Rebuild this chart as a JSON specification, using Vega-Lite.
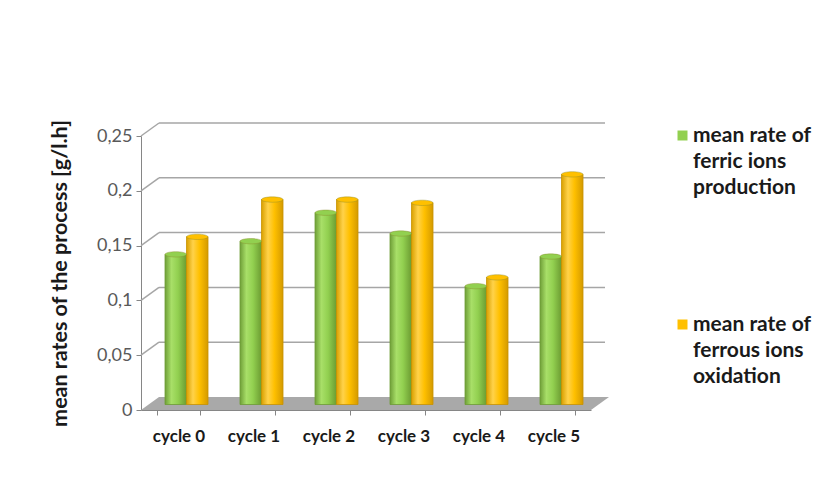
{
  "$schema": "https://vega.github.io/schema/vega-lite/v6.json",
  "width": 450,
  "height": 274,
  "autosize": {"type": "none"},
  "padding": {"left": 141, "top": 136, "right": 238, "bottom": 81},
  "background": "white",
  "datasets": {
    "rates": [
      {"cycle": "cycle 0", "series": "ferric", "rate": 0.137},
      {"cycle": "cycle 0", "series": "ferrous", "rate": 0.153},
      {"cycle": "cycle 1", "series": "ferric", "rate": 0.149},
      {"cycle": "cycle 1", "series": "ferrous", "rate": 0.187},
      {"cycle": "cycle 2", "series": "ferric", "rate": 0.175},
      {"cycle": "cycle 2", "series": "ferrous", "rate": 0.187},
      {"cycle": "cycle 3", "series": "ferric", "rate": 0.156},
      {"cycle": "cycle 3", "series": "ferrous", "rate": 0.184},
      {"cycle": "cycle 4", "series": "ferric", "rate": 0.108},
      {"cycle": "cycle 4", "series": "ferrous", "rate": 0.116},
      {"cycle": "cycle 5", "series": "ferric", "rate": 0.135},
      {"cycle": "cycle 5", "series": "ferrous", "rate": 0.21}
    ],
    "gridLevels": [
      {"level": 0.05}, {"level": 0.1}, {"level": 0.15}, {"level": 0.2}, {"level": 0.25}
    ],
    "floor": [{"level": 0}]
  },
  "encoding": {
    "x": {
      "field": "cycle",
      "type": "nominal",
      "sort": null,
      "scale": {"paddingInner": 0.427, "paddingOuter": 0.2135},
      "axis": {
        "title": null,
        "labelAngle": 0,
        "tickBand": "extent",
        "domainColor": "#868686",
        "tickColor": "#868686",
        "tickSize": 5,
        "labelFont": "Lato",
        "labelFontWeight": "bold",
        "labelFontSize": 17,
        "labelColor": "#1a1a1a",
        "labelPadding": 13
      }
    },
    "y": {
      "type": "quantitative",
      "scale": {"domain": [0, 0.25], "nice": false},
      "axis": {
        "title": "mean rates of the process [g/l.h]",
        "values": [0, 0.05, 0.1, 0.15, 0.2, 0.25],
        "labelExpr": "replace(format(datum.value, '~g'), '.', ',')",
        "grid": false,
        "domainColor": "#868686",
        "tickColor": "#868686",
        "tickSize": 5,
        "labelPadding": 4,
        "labelFont": "Lato",
        "labelFontSize": 18,
        "labelColor": "#595959",
        "titleFont": "Lato",
        "titleFontWeight": "bold",
        "titleFontSize": 21.5,
        "titleColor": "#1a1a1a",
        "titlePadding": 25
      }
    }
  },
  "layer": [
    {
      "data": {"name": "floor"},
      "mark": {
        "type": "point",
        "shape": "M-1,0.0278L0.923,0.0278L1,-0.0278L-0.923,-0.0278Z",
        "size": 219024,
        "filled": true,
        "color": "#a9a9a9",
        "opacity": 1,
        "strokeWidth": 0,
        "xOffset": 9,
        "yOffset": -6.5
      },
      "encoding": {
        "x": null,
        "y": {"field": "level", "type": "quantitative"}
      }
    },
    {
      "data": {"name": "gridLevels"},
      "mark": {
        "type": "rule",
        "color": "#a6a6a6",
        "strokeWidth": 1.5,
        "xOffset": 18,
        "x2Offset": 14,
        "yOffset": -13
      },
      "encoding": {
        "x": {"value": 0},
        "x2": {"value": {"expr": "width"}},
        "y": {"field": "level", "type": "quantitative"}
      }
    },
    {
      "data": {"name": "gridLevels"},
      "mark": {
        "type": "rule",
        "color": "#a6a6a6",
        "strokeWidth": 1.5,
        "x2Offset": 18,
        "y2Offset": -13
      },
      "encoding": {
        "x": {"value": 0},
        "x2": {"value": 0},
        "y": {"field": "level", "type": "quantitative"},
        "y2": {"field": "level"}
      }
    },
    {
      "data": {"name": "rates"},
      "transform": [{"filter": "datum.series == 'ferric'"}],
      "mark": {
        "type": "bar",
        "yOffset": -5.5,
        "y2Offset": -5.5,
        "stroke": "#6c9c34",
        "strokeWidth": 0.8,
        "color": {
          "gradient": "linear",
          "x1": 0, "x2": 1, "y1": 0, "y2": 0,
          "stops": [
            {"offset": 0, "color": "#6f9f38"},
            {"offset": 0.3, "color": "#a8df68"},
            {"offset": 0.6, "color": "#92d050"},
            {"offset": 1, "color": "#6c9c32"}
          ]
        }
      },
      "encoding": {
        "xOffset": {"field": "series", "type": "nominal", "scale": {"domain": ["ferric", "ferrous"], "range": [8, 51]}},
        "y": {"field": "rate", "type": "quantitative"}
      }
    },
    {
      "data": {"name": "rates"},
      "transform": [{"filter": "datum.series == 'ferrous'"}],
      "mark": {
        "type": "bar",
        "yOffset": -5.5,
        "y2Offset": -5.5,
        "stroke": "#c89200",
        "strokeWidth": 0.8,
        "color": {
          "gradient": "linear",
          "x1": 0, "x2": 1, "y1": 0, "y2": 0,
          "stops": [
            {"offset": 0, "color": "#d9a000"},
            {"offset": 0.3, "color": "#ffd24a"},
            {"offset": 0.6, "color": "#ffc000"},
            {"offset": 1, "color": "#d49a00"}
          ]
        }
      },
      "encoding": {
        "xOffset": {"field": "series", "type": "nominal", "scale": {"domain": ["ferric", "ferrous"], "range": [8, 51]}},
        "y": {"field": "rate", "type": "quantitative"}
      }
    },
    {
      "data": {"name": "rates"},
      "mark": {
        "type": "point",
        "shape": "M-1,0A1,0.25,0,1,0,1,0A1,0.25,0,1,0,-1,0Z",
        "size": 462,
        "filled": true,
        "opacity": 1,
        "stroke": "#8a8a2a",
        "strokeOpacity": 0.5,
        "strokeWidth": 0.8,
        "yOffset": -5.5
      },
      "encoding": {
        "xOffset": {"field": "series", "type": "nominal", "scale": {"domain": ["ferric", "ferrous"], "range": [8, 51]}},
        "y": {"field": "rate", "type": "quantitative"},
        "color": {
          "field": "series",
          "type": "nominal",
          "scale": {"domain": ["ferric", "ferrous"], "range": ["#92d050", "#ffc000"]},
          "legend": {
            "title": null,
            "orient": "right",
            "offset": 92,
            "padding": -11,
            "symbolType": "square",
            "symbolSize": 100,
            "symbolStrokeWidth": 0,
            "labelFont": "Lato",
            "labelFontWeight": "bold",
            "labelFontSize": 21,
            "labelColor": "#1a1a1a",
            "labelBaseline": "middle",
            "labelOffset": 0,
            "rowPadding": 115,
            "labelExpr": "datum.label == 'ferric' ? ['mean rate of', 'ferric ions', 'production'] : ['mean rate of', 'ferrous ions', 'oxidation']"
          }
        }
      }
    }
  ],
  "config": {
    "view": {"stroke": null},
    "style": {"guide-label": {"lineHeight": 26}}
  }
}
